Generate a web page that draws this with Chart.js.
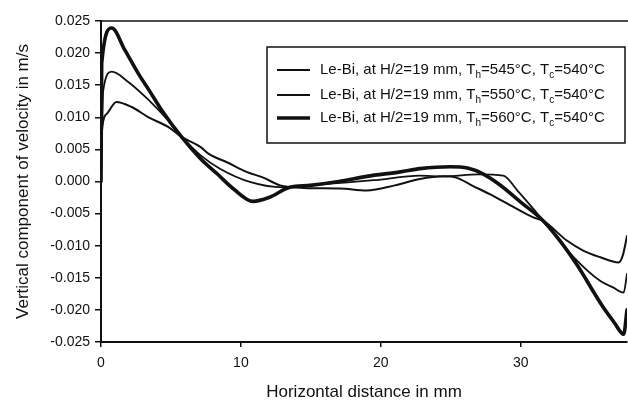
<!DOCTYPE html>
<html>
<head>
<meta charset="utf-8">
<script src="https://cdn.jsdelivr.net/npm/chart.js@4.4.0/dist/chart.umd.min.js"></script>
<style>
  html, body { margin: 0; padding: 0; background: #fff; }
  #wrap { width: 628px; height: 407px; }
</style>
</head>
<body>
<div id="wrap"><canvas id="velChart" width="628" height="407"></canvas></div>
<script>
// values (x in mm, y in m/s)
const x545 = [0, 0.05, 0.4, 1.1, 2.2, 3.4, 4.8, 5.8, 7.1, 7.7, 9.0, 10.4, 11.6, 12.8, 14.5, 17.1, 19.0, 21.0, 22.8, 24.5, 25.4, 26.5, 28.0, 29.5, 30.9, 31.6, 33.3, 34.5, 35.7, 37.0, 37.3, 37.6];
const y545 = [0, 0.0075, 0.0105, 0.0124, 0.0116, 0.0100, 0.0085, 0.0069, 0.0054, 0.0043, 0.0030, 0.0015, 0.0006, -0.0006, -0.0010, -0.0011, -0.0014, -0.0006, 0.0004, 0.0008, 0.0006, -0.0006, -0.0022, -0.0040, -0.0056, -0.0061, -0.0092, -0.0108, -0.0118, -0.0126, -0.0115, -0.0085];

const x550 = [0, 0.16, 0.77, 1.95, 3.4, 4.8, 5.8, 7.1, 8.5, 10.7, 13.0, 16.6, 19.5, 22.8, 24.5, 27.0, 28.75, 29.8, 30.8, 31.6, 33.8, 35.7, 36.6, 37.36, 37.6];
const y550 = [0, 0.0142, 0.0171, 0.0155, 0.0127, 0.0095, 0.0069, 0.0041, 0.0020, -0.0001, -0.0009, -0.0003, 0.0002, 0.0009, 0.0008, 0.0011, 0.0009, -0.0015, -0.0040, -0.0061, -0.0118, -0.0155, -0.0165, -0.0173, -0.0144];

const x560 = [0, 0.05, 0.77, 1.7, 2.67, 3.5, 4.34, 5.77, 7.1, 8.3, 9.5, 10.87, 12.0, 13.5, 14.95, 17.0, 19.0, 21.4, 22.8, 24.96, 26.2, 27.3, 28.5, 30.0, 31.6, 32.8, 34.0, 35.9, 36.7, 37.36, 37.6];
const y560 = [0, 0.0184, 0.0239, 0.0205, 0.0168, 0.0140, 0.0111, 0.0069, 0.0036, 0.0012, -0.0012, -0.0031, -0.0025, -0.0009, -0.0006, 0.0000, 0.0008, 0.0015, 0.0020, 0.0023, 0.0021, 0.0012, -0.0005, -0.0032, -0.0061, -0.0092, -0.0129, -0.0196, -0.0220, -0.0238, -0.0200];

const xTicks = [0, 10, 20, 30];
const yTicks = [-0.025, -0.020, -0.015, -0.010, -0.005, 0, 0.005, 0.010, 0.015, 0.020, 0.025];

// legend rows: [text, isSubscript]
const legendRows = [
  [['Le-Bi, at H/2=19 mm, T', 0], ['h', 1], ['=545\u00B0C, T', 0], ['c', 1], ['=540\u00B0C', 0]],
  [['Le-Bi, at H/2=19 mm, T', 0], ['h', 1], ['=550\u00B0C, T', 0], ['c', 1], ['=540\u00B0C', 0]],
  [['Le-Bi, at H/2=19 mm, T', 0], ['h', 1], ['=560\u00B0C, T', 0], ['c', 1], ['=540\u00B0C', 0]]
];

const FONT = '"Liberation Sans", Arial, Helvetica, sans-serif';
const INK = '#111';

function toPoints(xs, ys) {
  return xs.map((x, i) => ({x: x, y: ys[i]}));
}

const boxPlugin = {
  id: 'boxLegend',
  afterDraw(chart) {
    const ctx = chart.ctx;
    const a = chart.chartArea;
    ctx.save();
    // top frame line
    ctx.strokeStyle = INK;
    ctx.lineWidth = 1.5;
    ctx.beginPath();
    ctx.moveTo(a.left, a.top);
    ctx.lineTo(a.right + 1, a.top);
    ctx.stroke();

    // legend box
    const bx = 267, by = 47, bw = 358, bh = 96;
    ctx.fillStyle = '#fff';
    ctx.fillRect(bx, by, bw, bh);
    ctx.lineWidth = 1.5;
    ctx.strokeRect(bx, by, bw, bh);

    const rowY = [70, 95, 118];
    chart.data.datasets.forEach((ds, i) => {
      const y = rowY[i];
      ctx.strokeStyle = INK;
      ctx.lineWidth = ds.borderWidth;
      ctx.beginPath();
      ctx.moveTo(277, y);
      ctx.lineTo(310, y);
      ctx.stroke();

      let tx = 320;
      ctx.fillStyle = INK;
      ctx.textBaseline = 'middle';
      legendRows[i].forEach(([t, sub]) => {
        ctx.font = (sub ? '10px ' : '15px ') + FONT;
        ctx.fillText(t, tx, sub ? y + 5 : y);
        tx += ctx.measureText(t).width;
      });
    });
    ctx.restore();
  }
};

const ctx = document.getElementById('velChart').getContext('2d');
new Chart(ctx, {
  type: 'line',
  data: {
    datasets: [
      {label: 'Th=545', data: toPoints(x545, y545), borderColor: INK, borderWidth: 2},
      {label: 'Th=550', data: toPoints(x550, y550), borderColor: INK, borderWidth: 1.8},
      {label: 'Th=560', data: toPoints(x560, y560), borderColor: INK, borderWidth: 3.6}
    ]
  },
  options: {
    responsive: false,
    animation: false,
    layout: {padding: {top: 21, right: 1, left: 0, bottom: 0}},
    elements: {
      point: {radius: 0},
      line: {cubicInterpolationMode: 'monotone', borderJoinStyle: 'round', borderCapStyle: 'round'}
    },
    plugins: {legend: {display: false}, tooltip: {enabled: false}},
    scales: {
      x: {
        type: 'linear',
        min: 0,
        max: 37.6,
        afterFit: s => { s.height = 65; },
        afterBuildTicks: s => { s.ticks = xTicks.map(v => ({value: v})); },
        grid: {drawOnChartArea: false, drawTicks: true, tickLength: 5, color: INK, lineWidth: 1.5},
        border: {display: true, color: INK, width: 2},
        ticks: {color: INK, font: {family: FONT, size: 14}, padding: 8, maxRotation: 0},
        title: {display: true, text: 'Horizontal distance in mm', color: INK, font: {family: FONT, size: 17}, padding: {top: 0, bottom: 4}}
      },
      y: {
        min: -0.025,
        max: 0.025,
        afterFit: s => { s.width = 101; },
        afterBuildTicks: s => { s.ticks = yTicks.map(v => ({value: v})); },
        grid: {drawOnChartArea: false, drawTicks: true, tickLength: 6, color: INK, lineWidth: 1.5},
        border: {display: true, color: INK, width: 2},
        ticks: {color: INK, font: {family: FONT, size: 14}, padding: 5, callback: v => v.toFixed(3)},
        title: {display: true, text: 'Vertical component of velocity in m/s', color: INK, font: {family: FONT, size: 17}, padding: {top: 13, bottom: 0}}
      }
    }
  },
  plugins: [boxPlugin]
});
</script>
</body>
</html>
